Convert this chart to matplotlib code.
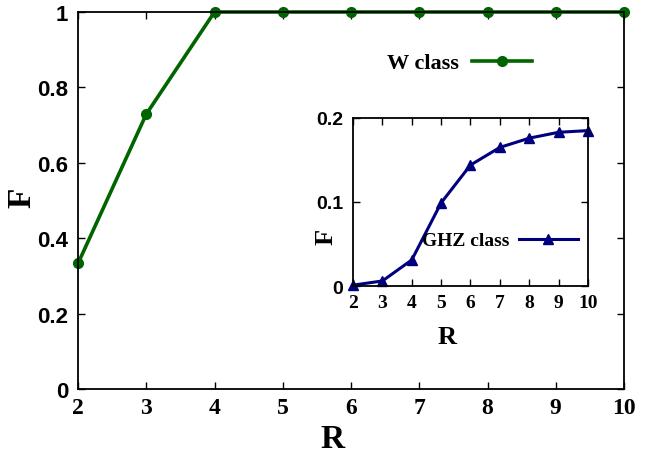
import numpy as np
import matplotlib.pyplot as plt

# data
R = [2, 3, 4, 5, 6, 7, 8, 9, 10]
F_w = [0.333, 0.729, 1.0, 1.0, 1.0, 1.0, 1.0, 1.0, 1.0]
F_ghz = [0.001, 0.006, 0.031, 0.099, 0.144, 0.165, 0.176, 0.183, 0.185]

W_W, H_W = 659, 456
GREEN = '#006400'
NAVY = '#00007f'
SERIF = 'Liberation Serif'
SANS = 'Liberation Sans'

fig = plt.figure(figsize=(6.59, 4.56), dpi=100)

def px_axes(l, t, r, b):
    return fig.add_axes([l / W_W, 1 - b / H_W, (r - l) / W_W, (b - t) / H_W])

def style(ax, xfs, yfs):
    ax.tick_params(direction='in', top=True, right=True, length=5, width=1)
    ax.tick_params(axis='y', pad=7)
    ax.tick_params(axis='x', pad=6)
    for s in ax.spines.values():
        s.set_linewidth(1.3)
    for lb in ax.get_xticklabels():
        lb.set_fontfamily(SERIF); lb.set_fontweight('bold'); lb.set_fontsize(xfs)
    for lb in ax.get_yticklabels():
        lb.set_fontfamily(SANS); lb.set_fontweight('bold'); lb.set_fontsize(yfs)

# main plot
ax = px_axes(78, 13, 624, 390)
ax.plot(R, F_w, color=GREEN, lw=2.6, marker='o', ms=7, label='W class', clip_on=False)
ax.set_xlim(2, 10)
ax.set_ylim(0, 1)
ax.set_xticks(R)
ax.set_yticks([0, 0.2, 0.4, 0.6, 0.8, 1])
ax.set_yticklabels(['0', '0.2', '0.4', '0.6', '0.8', '1'])
style(ax, 17, 16)
ax.set_xlabel('R', fontfamily=SERIF, fontweight='bold', fontsize=24)
ax.set_ylabel('F', fontfamily=SERIF, fontweight='bold', fontsize=24)
ax.xaxis.set_label_coords(0.467, -0.09)
ax.yaxis.set_label_coords(-0.075, 0.51)
ax.legend(loc='upper right', bbox_to_anchor=(0.868, 0.945), frameon=False,
          handlelength=2.7, handletextpad=0.6, markerfirst=False,
          prop={'family': SERIF, 'weight': 'bold', 'size': 16})

# inset
ins = px_axes(353, 119, 588, 287)
ins.plot(R, F_ghz, color=NAVY, lw=2.2, marker='^', ms=7, label='GHZ class', clip_on=False)
ins.set_xlim(2, 10)
ins.set_ylim(0, 0.2)
ins.set_xticks(R)
ins.set_yticks([0, 0.1, 0.2])
ins.set_yticklabels(['0', '0.1', '0.2'])
style(ins, 14, 14)
ins.set_xlabel('R', fontfamily=SERIF, fontweight='bold', fontsize=19)
ins.set_ylabel('F', fontfamily=SERIF, fontweight='bold', fontsize=19)
ins.xaxis.set_label_coords(0.40, -0.235)
ins.yaxis.set_label_coords(-0.064, 0.30)
ins.legend(loc='center right', bbox_to_anchor=(1.03, 0.27), frameon=False,
           handlelength=3.0, handletextpad=0.5, markerfirst=False,
           prop={'family': SERIF, 'weight': 'bold', 'size': 14})

fig.savefig('out.png', dpi=100)
